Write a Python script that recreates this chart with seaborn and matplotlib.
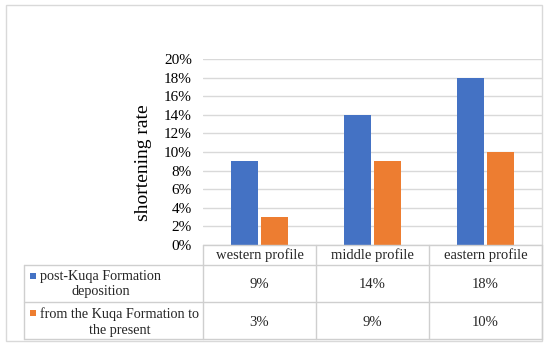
import matplotlib
matplotlib.use("Agg")
import matplotlib.pyplot as plt
import matplotlib.patches as mpatches
from matplotlib.lines import Line2D
from matplotlib.ticker import FuncFormatter, MultipleLocator
import matplotlib.transforms as mtrans
import seaborn as sns
import pandas as pd

categories = ["western profile", "middle profile", "eastern profile"]
series_names = ["post-Kuqa Formation\ndeposition", "from the Kuqa Formation to\nthe present"]
post_kuqa = [0.09, 0.14, 0.18]
since_kuqa = [0.03, 0.09, 0.10]
value_labels = [["9%", "14%", "18%"], ["3%", "9%", "10%"]]
colors = ["#4472C4", "#ED7D31"]

sns.set_theme(style="white")
plt.rcParams["font.family"] = ["Liberation Serif", "DejaVu Serif"]

W, H = 550, 346
fig = plt.figure(figsize=(5.5, 3.46), dpi=100)

def fx(x):
    return x / W

def fy(y):
    return 1 - y / H

ax_l, ax_r, ax_t, ax_b = 203, 542, 59, 245
ax = fig.add_axes([fx(ax_l), fy(ax_b), (ax_r - ax_l) / W, (ax_b - ax_t) / H])

df = pd.DataFrame({
    "profile": categories * 2,
    "rate": post_kuqa + since_kuqa,
    "series": [series_names[0]] * 3 + [series_names[1]] * 3,
})

sns.barplot(data=df, x="profile", y="rate", hue="series", palette=colors,
            width=0.54, gap=0.12, saturation=1, legend=False, ax=ax, zorder=3,
            linewidth=0)

ax.set_ylim(0, 0.20)
ax.set_xlim(-0.5, 2.5)
ax.yaxis.set_major_locator(MultipleLocator(0.02))
ax.yaxis.set_major_formatter(FuncFormatter(lambda v, p: f"{v*100:.0f}%"))
ax.grid(axis="y", color="#D9D9D9", lw=1, zorder=0)
ax.grid(axis="x", visible=False)
for s in ax.spines.values():
    s.set_visible(False)
ax.set_xlabel("")
ax.set_ylabel("")
ax.set_xticks([])
ax.tick_params(axis="y", length=0, pad=8, labelsize=11, labelcolor="#000000")

# y label
fig.text(fx(143), fy(163), "shortening rate", rotation=90, ha="center", va="center",
         fontsize=14, color="#000000")

# outer frame
fig.add_artist(mpatches.Rectangle((fx(6), fy(341)), fx(542) - fx(6), fy(5) - fy(341),
                                  transform=fig.transFigure, fill=False,
                                  edgecolor="#D9D9D9", lw=1))

# data table
lc = "#CFCFCF"
trans_x = mtrans.blended_transform_factory(ax.transData, fig.transFigure)
def hline(y, x0, x1):
    fig.add_artist(Line2D([fx(x0), fx(x1)], [fy(y), fy(y)], transform=fig.transFigure,
                          color=lc, lw=1))

hline(245, 203, 542)
for y in (265, 302, 339):
    hline(y, 24, 542)
fig.add_artist(Line2D([fx(24), fx(24)], [fy(265), fy(339)], transform=fig.transFigure, color=lc, lw=1))
for b in (-0.5, 0.5, 1.5, 2.5):
    fig.add_artist(Line2D([b, b], [fy(245), fy(339)], transform=trans_x, color=lc, lw=1))

for i, c in enumerate(categories):
    fig.text(i, fy(255), c, transform=trans_x, ha="center", va="center", fontsize=10.5)
    for r, yc in enumerate((284, 322)):
        fig.text(i, fy(yc), value_labels[r][i], transform=trans_x, ha="center",
                 va="center", fontsize=10.5)

row_centers = [284, 322]
marker_tops = [273, 310]
for r, name in enumerate(series_names):
    fig.text(fx(40), fy(row_centers[r]), name, ha="left", va="center",
             multialignment="center", fontsize=10.2, linespacing=1.25)
    fig.add_artist(mpatches.Rectangle((fx(30), fy(marker_tops[r] + 6)), 6 / W, 6 / H,
                                      transform=fig.transFigure, facecolor=colors[r],
                                      edgecolor="none"))

fig.savefig("out.png", dpi=100)
